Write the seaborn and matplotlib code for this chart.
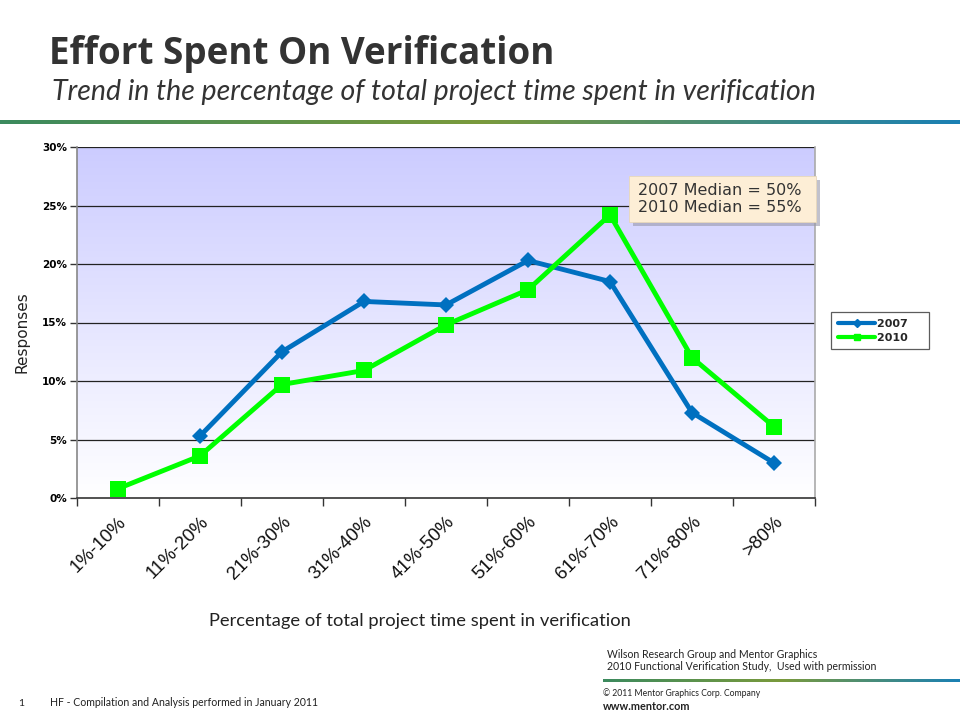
import numpy as np
import pandas as pd
import seaborn as sns
import matplotlib.pyplot as plt
from matplotlib.patches import Rectangle
from matplotlib.lines import Line2D
from matplotlib.colors import LinearSegmentedColormap

categories = ['1%-10%', '11%-20%', '21%-30%', '31%-40%', '41%-50%',
              '51%-60%', '61%-70%', '71%-80%', '>80%']
resp_2007 = [np.nan, 5.3, 12.5, 16.8, 16.5, 20.3, 18.5, 7.3, 3.0]
resp_2010 = [0.8, 3.6, 9.7, 10.9, 14.8, 17.8, 24.2, 12.0, 6.1]
y_ticks = [0, 5, 10, 15, 20, 25, 30]

df = pd.DataFrame({'pos': np.arange(len(categories)),
                   'cat': categories, '2007': resp_2007, '2010': resp_2010})

sns.set_theme(style='white')
plt.rcParams['font.family'] = ['Lato', 'DejaVu Sans']

fig = plt.figure(figsize=(9.6, 7.2), dpi=100)

# header
fig.text(49 / 960, 1 - 54 / 720, 'Effort Spent On Verification', fontsize=26.5,
         fontweight='bold', family='Open Sans', color='#333333',
         va='center', ha='left')
fig.text(52 / 960, 1 - 92 / 720,
         'Trend in the percentage of total project time spent in verification',
         fontsize=20.5, style='italic', color='#333333', va='center', ha='left')

band = LinearSegmentedColormap.from_list('band', ['#3c8a5e', '#7a9a3c', '#1a80b4'])
grad = np.linspace(0, 1, 256).reshape(1, -1)
lax = fig.add_axes([0, 1 - 124 / 720, 1, 4 / 720])
lax.imshow(grad, aspect='auto', cmap=band)
lax.axis('off')
lax2 = fig.add_axes([603 / 960, 1 - 682 / 720, 357 / 960, 3 / 720])
lax2.imshow(grad, aspect='auto', cmap=band)
lax2.axis('off')

# chart
ax = fig.add_axes([77 / 960, 1 - 498 / 720, 738 / 960, 351 / 720])
bg = LinearSegmentedColormap.from_list('bg', ['#ffffff', '#ccccff'])
ax.imshow(np.linspace(0, 1, 256).reshape(-1, 1), aspect='auto', cmap=bg,
          origin='lower', extent=[-0.5, 8.5, 0, 30], zorder=0)

sns.lineplot(data=df, x='pos', y='2007', ax=ax, color='#0070c0', lw=3.5,
             marker='D', markersize=8, markeredgewidth=0, zorder=3)
sns.lineplot(data=df, x='pos', y='2010', ax=ax, color='#00ff00', lw=3.5,
             marker='s', markersize=11, markeredgewidth=0, zorder=4)

ax.set_xlim(-0.5, 8.5)
ax.set_ylim(0, 30)
ax.set_yticks(y_ticks)
ax.set_yticklabels([f'{v}%' for v in y_ticks], fontsize=7.5, fontweight='bold',
                   family='DejaVu Sans', color='black')
for v in y_ticks[1:]:
    ax.axhline(v, color='#222222', lw=0.9, zorder=1)
ax.set_xticks(np.arange(len(categories)))
ax.set_xticklabels(categories, rotation=45, ha='right', rotation_mode='anchor',
                   fontsize=13.5, family='Liberation Sans', color='#111111')
ax.set_xticks(np.arange(-0.5, 9, 1), minor=True)
ax.tick_params(axis='x', which='major', length=0, pad=11)
ax.tick_params(axis='x', which='minor', length=6, width=1, color='#333333',
               direction='out', bottom=True)
ax.tick_params(axis='y', length=5, width=1, color='#333333', direction='out',
               left=True, pad=2)
ax.set_xlabel('')
ax.set_ylabel('')
ax.spines['top'].set_visible(False)
ax.spines['left'].set_color('#888888')
ax.spines['right'].set_color('#aaaaaa')
ax.spines['bottom'].set_color('#333333')
for s in ax.spines.values():
    s.set_linewidth(1.2)

fig.text(22 / 960, 1 - 332 / 720, 'Responses', rotation=90, fontsize=11,
         color='#222222', va='center', ha='center', family='DejaVu Sans')

# median callout
fig.patches.append(Rectangle((633 / 960, 1 - 226 / 720), 187 / 960, 46 / 720,
                             transform=fig.transFigure, facecolor='#9999aa',
                             edgecolor='none', alpha=0.6, zorder=5))
fig.patches.append(Rectangle((629 / 960, 1 - 222 / 720), 187 / 960, 46 / 720,
                             transform=fig.transFigure, facecolor='#fdeed6',
                             edgecolor='#e8d8bb', lw=0.6, zorder=6))
fig.text(638 / 960, 1 - 199 / 720, '2007 Median = 50%\n2010 Median = 55%',
         fontsize=11.5, family='DejaVu Sans', color='#333333', va='center',
         ha='left', linespacing=1.1, zorder=7)

# legend
handles = [Line2D([], [], color='#0070c0', lw=3, marker='D', markersize=4),
           Line2D([], [], color='#00ff00', lw=3, marker='s', markersize=4)]
leg = fig.legend(handles, ['2007    ', '2010    '], loc='upper left',
                 bbox_to_anchor=(831 / 960, 1 - 312 / 720), fancybox=False,
                 frameon=True, edgecolor='#333333', handlelength=3.4,
                 handletextpad=0.1, borderpad=0.6, labelspacing=0.35,
                 borderaxespad=0,
                 prop={'weight': 'bold', 'size': 8, 'family': 'DejaVu Sans'})
leg.get_frame().set_linewidth(0.9)

# footer
fig.text(420 / 960, 1 - 621 / 720,
         'Percentage of total project time spent in verification',
         fontsize=13.2, color='#222222', ha='center', va='center')
fig.text(607 / 960, 1 - 655 / 720, 'Wilson Research Group and Mentor Graphics',
         fontsize=7.6, color='#222222', ha='left', va='center')
fig.text(607 / 960, 1 - 667 / 720,
         '2010 Functional Verification Study,  Used with permission',
         fontsize=7.6, color='#222222', ha='left', va='center')
fig.text(603 / 960, 1 - 693 / 720, '© 2011 Mentor Graphics Corp. Company',
         fontsize=6.2, color='#222222', ha='left', va='center')
fig.text(603 / 960, 1 - 707 / 720, 'www.mentor.com', fontsize=7.8,
         fontweight='bold', color='#222222', ha='left', va='center')
fig.text(18 / 960, 1 - 703 / 720, '1', fontsize=7.5, color='#222222',
         ha='left', va='center')
fig.text(50 / 960, 1 - 703 / 720,
         'HF - Compilation and Analysis performed in January 2011',
         fontsize=7.6, color='#222222', ha='left', va='center')

fig.savefig('out.png', dpi=100)
